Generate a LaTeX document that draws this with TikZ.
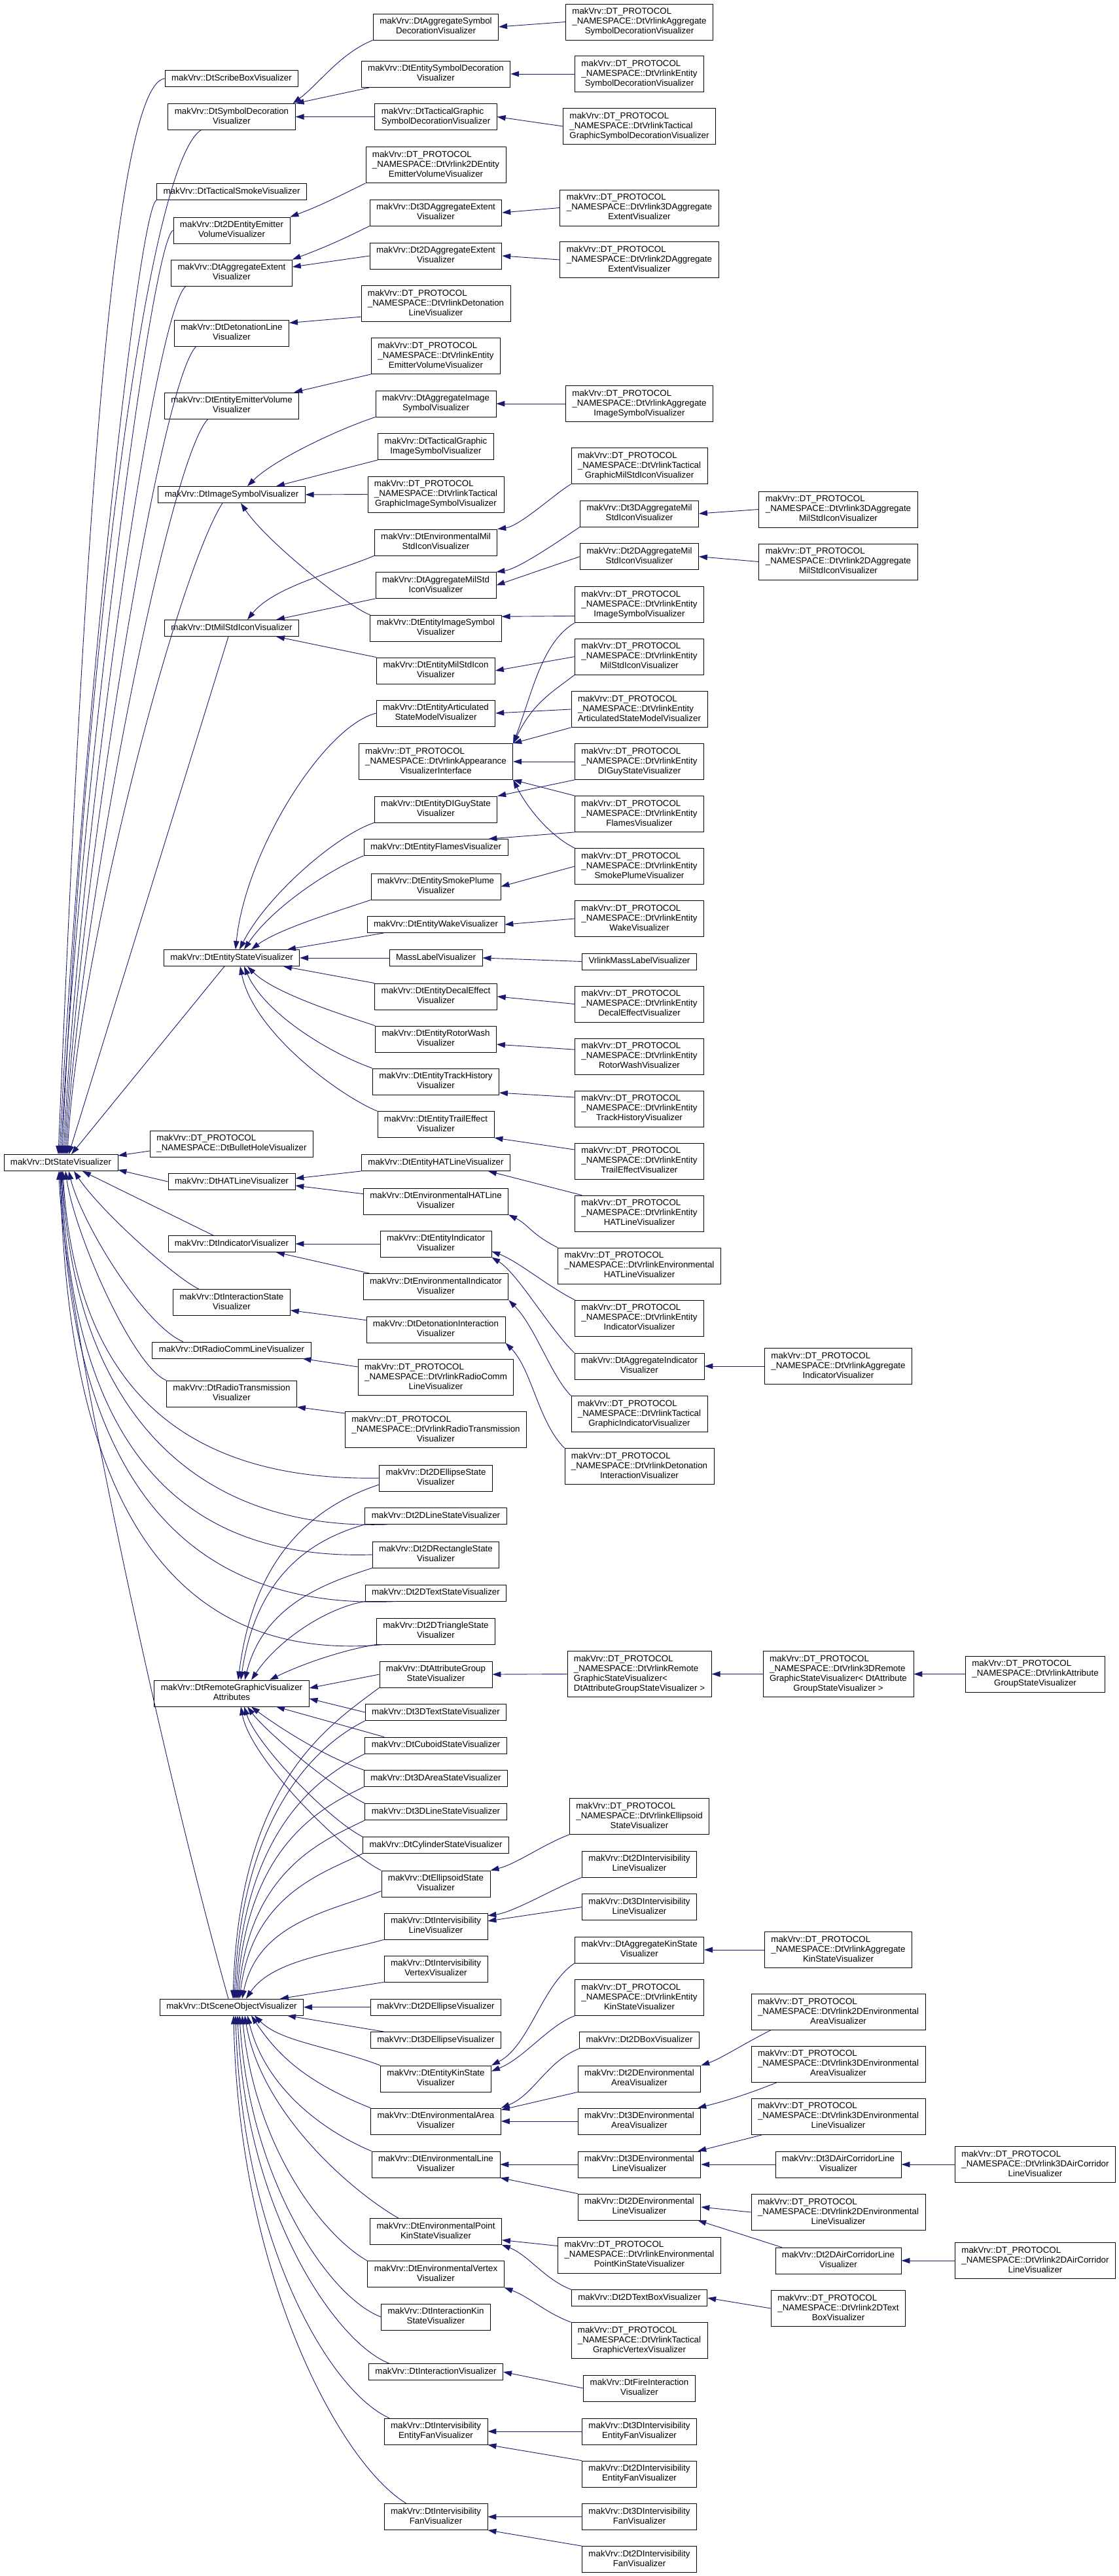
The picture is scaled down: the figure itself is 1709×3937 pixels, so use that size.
\documentclass[tikz,border=0pt]{standalone}
\usepackage{fontspec}
\setmainfont{Liberation Sans}
\usetikzlibrary{arrows.meta}
\definecolor{edgeblue}{HTML}{191970}
\newcommand{\kone}[1]{\begin{tabular}{@{}c@{}}#1\end{tabular}}
\newcommand{\klass}[2]{\begin{tabular}{@{}l@{}}#1\\\multicolumn{1}{@{}c@{}}{#2}\end{tabular}}
\newcommand{\dtpns}{makVrv::DT\_PROTOCOL\\\_NAMESPACE::}

\begin{document}
\begin{tikzpicture}[x=1pt,y=-1pt,
  cls/.style={draw=black,line width=0.8pt,fill=white,inner xsep=10pt,inner ysep=5pt,
    font=\fontsize{13.33}{15}\selectfont},
  inh/.style={draw=edgeblue,line width=0.9pt,-{Triangle[length=13pt,width=8.5pt]}}]
  \path[fill=white,use as bounding box] (0,0) rectangle (1709,3937);

  \node[cls] (state) at (93,1777) {\kone{makVrv::DtStateVisualizer}};

  \node[cls] (scribe) at (354,120) {\kone{makVrv::DtScribeBoxVisualizer}};
  \node[cls] (symdeco) at (354,178.5) {\klass{makVrv::DtSymbolDecoration}{Visualizer}};
  \node[cls] (tsmoke) at (354,293) {\kone{makVrv::DtTacticalSmokeVisualizer}};
  \node[cls] (emit2d) at (354,352) {\klass{makVrv::Dt2DEntityEmitter}{VolumeVisualizer}};
  \node[cls] (aggext) at (354,417) {\klass{makVrv::DtAggregateExtent}{Visualizer}};
  \node[cls] (detline) at (354,509) {\klass{makVrv::DtDetonationLine}{Visualizer}};
  \node[cls] (entemit) at (354,620) {\klass{makVrv::DtEntityEmitterVolume}{Visualizer}};
  \node[cls] (imgsym) at (354,756) {\kone{makVrv::DtImageSymbolVisualizer}};
  \node[cls] (milstd) at (354,960) {\kone{makVrv::DtMilStdIconVisualizer}};
  \node[cls] (entstate) at (354,1464) {\kone{makVrv::DtEntityStateVisualizer}};
  \node[cls] (bullet) at (354,1748) {\klass{makVrv::DT\_PROTOCOL}{\_NAMESPACE::DtBulletHoleVisualizer}};
  \node[cls] (hatline) at (354,1806) {\kone{makVrv::DtHATLineVisualizer}};
  \node[cls] (indic) at (354,1901) {\kone{makVrv::DtIndicatorVisualizer}};
  \node[cls] (interst) at (354,1990.6) {\klass{makVrv::DtInteractionState}{Visualizer}};
  \node[cls] (radiocomm) at (354,2063.5) {\kone{makVrv::DtRadioCommLineVisualizer}};
  \node[cls] (radiotx) at (354,2130) {\klass{makVrv::DtRadioTransmission}{Visualizer}};
  \node[cls] (remgfx) at (354,2588) {\klass{makVrv::DtRemoteGraphicVisualizer}{Attributes}};
  \node[cls] (sceneobj) at (354,3067.6) {\kone{makVrv::DtSceneObjectVisualizer}};

  \node[cls] (aggsymdeco) at (666,41) {\klass{makVrv::DtAggregateSymbol}{DecorationVisualizer}};
  \node[cls] (entsymdeco) at (666,113) {\klass{makVrv::DtEntitySymbolDecoration}{Visualizer}};
  \node[cls] (tgsymdeco) at (666,178.5) {\klass{makVrv::DtTacticalGraphic}{SymbolDecorationVisualizer}};
  \node[cls] (vlemit2d) at (666,252) {\klass{\dtpns DtVrlink2DEntity}{EmitterVolumeVisualizer}};
  \node[cls] (aggext3d) at (666,325) {\klass{makVrv::Dt3DAggregateExtent}{Visualizer}};
  \node[cls] (aggext2d) at (666,391) {\klass{makVrv::Dt2DAggregateExtent}{Visualizer}};
  \node[cls] (vldetline) at (666,464) {\klass{\dtpns DtVrlinkDetonation}{LineVisualizer}};
  \node[cls] (vlentemit) at (666,544) {\klass{\dtpns DtVrlinkEntity}{EmitterVolumeVisualizer}};
  \node[cls] (aggimg) at (666,617) {\klass{makVrv::DtAggregateImage}{SymbolVisualizer}};
  \node[cls] (tgimg) at (666,682.6) {\klass{makVrv::DtTacticalGraphic}{ImageSymbolVisualizer}};
  \node[cls] (vltgimg) at (666,755.5) {\klass{\dtpns DtVrlinkTactical}{GraphicImageSymbolVisualizer}};
  \node[cls] (envmil) at (666,829) {\klass{makVrv::DtEnvironmentalMil}{StdIconVisualizer}};
  \node[cls] (aggmil) at (666,894.5) {\klass{makVrv::DtAggregateMilStd}{IconVisualizer}};
  \node[cls] (entimg) at (666,960) {\klass{makVrv::DtEntityImageSymbol}{Visualizer}};
  \node[cls] (entmil) at (666,1025) {\klass{makVrv::DtEntityMilStdIcon}{Visualizer}};
  \node[cls] (entartic) at (666,1090) {\klass{makVrv::DtEntityArticulated}{StateModelVisualizer}};
  \node[cls] (vlappear) at (666,1164) {\klass{\dtpns DtVrlinkAppearance}{VisualizerInterface}};
  \node[cls] (entdiguy) at (666,1237) {\klass{makVrv::DtEntityDIGuyState}{Visualizer}};
  \node[cls] (entflames) at (666,1295) {\kone{makVrv::DtEntityFlamesVisualizer}};
  \node[cls] (entsmoke) at (666,1355) {\klass{makVrv::DtEntitySmokePlume}{Visualizer}};
  \node[cls] (entwake) at (666,1413) {\kone{makVrv::DtEntityWakeVisualizer}};
  \node[cls] (masslabel) at (666,1464) {\kone{MassLabelVisualizer}};
  \node[cls] (entdecal) at (666,1523) {\klass{makVrv::DtEntityDecalEffect}{Visualizer}};
  \node[cls] (entrotor) at (666,1588) {\klass{makVrv::DtEntityRotorWash}{Visualizer}};
  \node[cls] (enttrack) at (666,1653) {\klass{makVrv::DtEntityTrackHistory}{Visualizer}};
  \node[cls] (enttrail) at (666,1718.6) {\klass{makVrv::DtEntityTrailEffect}{Visualizer}};
  \node[cls] (enthat) at (666,1777) {\kone{makVrv::DtEntityHATLineVisualizer}};
  \node[cls] (envhat) at (666,1836) {\klass{makVrv::DtEnvironmentalHATLine}{Visualizer}};
  \node[cls] (entind) at (666,1901) {\klass{makVrv::DtEntityIndicator}{Visualizer}};
  \node[cls] (envind) at (666,1966.5) {\klass{makVrv::DtEnvironmentalIndicator}{Visualizer}};
  \node[cls] (detinter) at (666,2032) {\klass{makVrv::DtDetonationInteraction}{Visualizer}};
  \node[cls] (vlradiocomm) at (666,2105) {\klass{\dtpns DtVrlinkRadioComm}{LineVisualizer}};
  \node[cls] (vlradiotx) at (666,2185) {\klass{\dtpns DtVrlinkRadioTransmission}{Visualizer}};
  \node[cls] (ellst2d) at (666,2259) {\klass{makVrv::Dt2DEllipseState}{Visualizer}};
  \node[cls] (linest2d) at (666,2317) {\kone{makVrv::Dt2DLineStateVisualizer}};
  \node[cls] (rectst2d) at (666,2376) {\klass{makVrv::Dt2DRectangleState}{Visualizer}};
  \node[cls] (textst2d) at (666,2434.6) {\kone{makVrv::Dt2DTextStateVisualizer}};
  \node[cls] (trist2d) at (666,2493) {\klass{makVrv::Dt2DTriangleState}{Visualizer}};
  \node[cls] (attrgrp) at (666,2559) {\klass{makVrv::DtAttributeGroup}{StateVisualizer}};
  \node[cls] (textst3d) at (666,2617) {\kone{makVrv::Dt3DTextStateVisualizer}};
  \node[cls] (cuboid) at (666,2667.5) {\kone{makVrv::DtCuboidStateVisualizer}};
  \node[cls] (areast3d) at (666,2718) {\kone{makVrv::Dt3DAreaStateVisualizer}};
  \node[cls] (linest3d) at (666,2769) {\kone{makVrv::Dt3DLineStateVisualizer}};
  \node[cls] (cylinder) at (666,2820) {\kone{makVrv::DtCylinderStateVisualizer}};
  \node[cls] (ellipsoid) at (666,2879) {\klass{makVrv::DtEllipsoidState}{Visualizer}};
  \node[cls] (ivline) at (666,2944) {\klass{makVrv::DtIntervisibility}{LineVisualizer}};
  \node[cls] (ivvertex) at (666,3009) {\klass{makVrv::DtIntervisibility}{VertexVisualizer}};
  \node[cls] (ellvis2d) at (666,3067.6) {\kone{makVrv::Dt2DEllipseVisualizer}};
  \node[cls] (ellvis3d) at (666,3118) {\kone{makVrv::Dt3DEllipseVisualizer}};
  \node[cls] (entkin) at (666,3177) {\klass{makVrv::DtEntityKinState}{Visualizer}};
  \node[cls] (envarea) at (666,3242) {\klass{makVrv::DtEnvironmentalArea}{Visualizer}};
  \node[cls] (envline) at (666,3308) {\klass{makVrv::DtEnvironmentalLine}{Visualizer}};
  \node[cls] (envptkin) at (666,3410.5) {\klass{makVrv::DtEnvironmentalPoint}{KinStateVisualizer}};
  \node[cls] (envvertex) at (666,3475.7) {\klass{makVrv::DtEnvironmentalVertex}{Visualizer}};
  \node[cls] (interkin) at (666,3541) {\klass{makVrv::DtInteractionKin}{StateVisualizer}};
  \node[cls] (intervis) at (666,3625) {\kone{makVrv::DtInteractionVisualizer}};
  \node[cls] (iventfan) at (666,3716) {\klass{makVrv::DtIntervisibility}{EntityFanVisualizer}};
  \node[cls] (ivfan) at (666,3846.5) {\klass{makVrv::DtIntervisibility}{FanVisualizer}};

  \node[cls] (vlaggsymdeco) at (977,33.5) {\klass{\dtpns DtVrlinkAggregate}{SymbolDecorationVisualizer}};
  \node[cls] (vlentsymdeco) at (977,113) {\klass{\dtpns DtVrlinkEntity}{SymbolDecorationVisualizer}};
  \node[cls] (vltgsymdeco) at (977,193) {\klass{\dtpns DtVrlinkTactical}{GraphicSymbolDecorationVisualizer}};
  \node[cls] (vlaggext3d) at (977,317.5) {\klass{\dtpns DtVrlink3DAggregate}{ExtentVisualizer}};
  \node[cls] (vlaggext2d) at (977,397) {\klass{\dtpns DtVrlink2DAggregate}{ExtentVisualizer}};
  \node[cls] (vlaggimg) at (977,617) {\klass{\dtpns DtVrlinkAggregate}{ImageSymbolVisualizer}};
  \node[cls] (vltgmil) at (977,712) {\klass{\dtpns DtVrlinkTactical}{GraphicMilStdIconVisualizer}};
  \node[cls] (aggmil3d) at (977,785) {\klass{makVrv::Dt3DAggregateMil}{StdIconVisualizer}};
  \node[cls] (aggmil2d) at (977,850.6) {\klass{makVrv::Dt2DAggregateMil}{StdIconVisualizer}};
  \node[cls] (vlentimg) at (977,924) {\klass{\dtpns DtVrlinkEntity}{ImageSymbolVisualizer}};
  \node[cls] (vlentmil) at (977,1003.6) {\klass{\dtpns DtVrlinkEntity}{MilStdIconVisualizer}};
  \node[cls] (vlentartic) at (977,1084) {\klass{\dtpns DtVrlinkEntity}{ArticulatedStateModelVisualizer}};
  \node[cls] (vlentdiguy) at (977,1164) {\klass{\dtpns DtVrlinkEntity}{DIGuyStateVisualizer}};
  \node[cls] (vlentflames) at (977,1244) {\klass{\dtpns DtVrlinkEntity}{FlamesVisualizer}};
  \node[cls] (vlentsmoke) at (977,1324) {\klass{\dtpns DtVrlinkEntity}{SmokePlumeVisualizer}};
  \node[cls] (vlentwake) at (977,1404) {\klass{\dtpns DtVrlinkEntity}{WakeVisualizer}};
  \node[cls] (vlmasslabel) at (977,1469.5) {\kone{VrlinkMassLabelVisualizer}};
  \node[cls] (vlentdecal) at (977,1534.5) {\klass{\dtpns DtVrlinkEntity}{DecalEffectVisualizer}};
  \node[cls] (vlentrotor) at (977,1614.5) {\klass{\dtpns DtVrlinkEntity}{RotorWashVisualizer}};
  \node[cls] (vlenttrack) at (977,1694.5) {\klass{\dtpns DtVrlinkEntity}{TrackHistoryVisualizer}};
  \node[cls] (vlenttrail) at (977,1774.5) {\klass{\dtpns DtVrlinkEntity}{TrailEffectVisualizer}};
  \node[cls] (vlenthat) at (977,1854.5) {\klass{\dtpns DtVrlinkEntity}{HATLineVisualizer}};
  \node[cls] (vlenvhat) at (977,1934.5) {\klass{\dtpns DtVrlinkEnvironmental}{HATLineVisualizer}};
  \node[cls] (vlentind) at (977,2014.5) {\klass{\dtpns DtVrlinkEntity}{IndicatorVisualizer}};
  \node[cls] (aggind) at (977,2088) {\klass{makVrv::DtAggregateIndicator}{Visualizer}};
  \node[cls] (vltgind) at (977,2161) {\klass{\dtpns DtVrlinkTactical}{GraphicIndicatorVisualizer}};
  \node[cls] (vldetinter) at (977,2241) {\klass{\dtpns DtVrlinkDetonation}{InteractionVisualizer}};
  \node[cls] (vlremgfx) at (977,2558.5) {\klass{\dtpns DtVrlinkRemote\\GraphicStateVisualizer<}{DtAttributeGroupStateVisualizer >}};
  \node[cls] (vlellipsoid) at (977,2776) {\klass{\dtpns DtVrlinkEllipsoid}{StateVisualizer}};
  \node[cls] (ivline2d) at (977,2849) {\klass{makVrv::Dt2DIntervisibility}{LineVisualizer}};
  \node[cls] (ivline3d) at (977,2914.6) {\klass{makVrv::Dt3DIntervisibility}{LineVisualizer}};
  \node[cls] (aggkin) at (977,2980) {\klass{makVrv::DtAggregateKinState}{Visualizer}};
  \node[cls] (vlentkin) at (977,3053) {\klass{\dtpns DtVrlinkEntity}{KinStateVisualizer}};
  \node[cls] (box2d) at (977,3118) {\kone{makVrv::Dt2DBoxVisualizer}};
  \node[cls] (envarea2d) at (977,3177) {\klass{makVrv::Dt2DEnvironmental}{AreaVisualizer}};
  \node[cls] (envarea3d) at (977,3242) {\klass{makVrv::Dt3DEnvironmental}{AreaVisualizer}};
  \node[cls] (envline3d) at (977,3308) {\klass{makVrv::Dt3DEnvironmental}{LineVisualizer}};
  \node[cls] (envline2d) at (977,3373) {\klass{makVrv::Dt2DEnvironmental}{LineVisualizer}};
  \node[cls] (vlenvptkin) at (977,3446.5) {\klass{\dtpns DtVrlinkEnvironmental}{PointKinStateVisualizer}};
  \node[cls] (textbox2d) at (977,3512) {\kone{makVrv::Dt2DTextBoxVisualizer}};
  \node[cls] (vltgvertex) at (977,3577) {\klass{\dtpns DtVrlinkTactical}{GraphicVertexVisualizer}};
  \node[cls] (fireinter) at (977,3650) {\klass{makVrv::DtFireInteraction}{Visualizer}};
  \node[cls] (iventfan3d) at (977,3716) {\klass{makVrv::Dt3DIntervisibility}{EntityFanVisualizer}};
  \node[cls] (iventfan2d) at (977,3781) {\klass{makVrv::Dt2DIntervisibility}{EntityFanVisualizer}};
  \node[cls] (ivfan3d) at (977,3846.5) {\klass{makVrv::Dt3DIntervisibility}{FanVisualizer}};
  \node[cls] (ivfan2d) at (977,3911.5) {\klass{makVrv::Dt2DIntervisibility}{FanVisualizer}};

  \node[cls] (vlaggmil3d) at (1281,778.5) {\klass{\dtpns DtVrlink3DAggregate}{MilStdIconVisualizer}};
  \node[cls] (vlaggmil2d) at (1281,858.5) {\klass{\dtpns DtVrlink2DAggregate}{MilStdIconVisualizer}};
  \node[cls] (vlaggind) at (1281,2088) {\klass{\dtpns DtVrlinkAggregate}{IndicatorVisualizer}};
  \node[cls] (vlremgfx3d) at (1281,2558.5) {\klass{\dtpns DtVrlink3DRemote\\GraphicStateVisualizer< DtAttribute}{GroupStateVisualizer >}};
  \node[cls] (vlaggkin) at (1281,2980) {\klass{\dtpns DtVrlinkAggregate}{KinStateVisualizer}};
  \node[cls] (vlenvarea2d) at (1281,3075) {\klass{\dtpns DtVrlink2DEnvironmental}{AreaVisualizer}};
  \node[cls] (vlenvarea3d) at (1281,3154.6) {\klass{\dtpns DtVrlink3DEnvironmental}{AreaVisualizer}};
  \node[cls] (vlenvline3d) at (1281,3234.6) {\klass{\dtpns DtVrlink3DEnvironmental}{LineVisualizer}};
  \node[cls] (aircorr3d) at (1281,3308) {\klass{makVrv::Dt3DAirCorridorLine}{Visualizer}};
  \node[cls] (vlenvline2d) at (1281,3381) {\klass{\dtpns DtVrlink2DEnvironmental}{LineVisualizer}};
  \node[cls] (aircorr2d) at (1281,3455) {\klass{makVrv::Dt2DAirCorridorLine}{Visualizer}};
  \node[cls] (vltextbox2d) at (1281,3528) {\klass{\dtpns DtVrlink2DText}{BoxVisualizer}};

  \node[cls] (vlattrgrp) at (1582,2558.5) {\klass{\dtpns DtVrlinkAttribute}{GroupStateVisualizer}};
  \node[cls] (vlaircorr3d) at (1582,3308) {\klass{\dtpns DtVrlink3DAirCorridor}{LineVisualizer}};
  \node[cls] (vlaircorr2d) at (1582,3455) {\klass{\dtpns DtVrlink2DAirCorridor}{LineVisualizer}};

  \draw[inh] (scribe.west) .. controls +(-90,10) and +(30,-700) .. ([xshift=-4pt]state.north);
  \draw[inh] ([xshift=-47pt]symdeco.south) .. controls +(-90,60) and +(28,-650) .. ([xshift=2pt]state.north);
  \draw[inh] (tsmoke.south west) .. controls +(-30,15) and +(26,-550) .. ([xshift=-2pt]state.north);
  \draw[inh] (emit2d.west) .. controls +(-35,15) and +(25,-500) .. (state.north);
  \draw[inh] ([xshift=-70pt]aggext.south) .. controls +(-50,40) and +(22,-450) .. ([xshift=4pt]state.north);
  \draw[inh] ([xshift=-54pt]detline.south) .. controls +(-55,50) and +(20,-400) .. ([xshift=6pt]state.north);
  \draw[inh] ([xshift=-36pt]entemit.south) .. controls +(-60,60) and +(18,-350) .. ([xshift=8pt]state.north);
  \draw[inh] ([xshift=-14pt]imgsym.south) .. controls +(-70,110) and +(15,-300) .. ([xshift=10pt]state.north);
  \draw[inh] ([xshift=-5pt]milstd.south) -- ([xshift=12pt]state.north);
  \draw[inh] ([xshift=-11pt]entstate.south) -- ([xshift=16pt]state.north);
  \draw[inh] (bullet.185) -- ([yshift=-2pt]state.north east);
  \draw[inh] (hatline.west) -- ([yshift=2pt]state.south east);
  \draw[inh] ([xshift=-28pt]indic.north) -- ([xshift=33pt]state.south);
  \draw[inh] ([xshift=-50pt]interst.north) .. controls +(-40,-20) and +(40,60) .. ([xshift=20pt]state.south);
  \draw[inh] ([xshift=-74pt]radiocomm.north) .. controls +(-60,-25) and +(20,80) .. ([xshift=12pt]state.south);
  \draw[inh] (radiotx.north west) .. controls +(-50,-20) and +(15,100) .. ([xshift=7pt]state.south);
  \draw[inh] (ellst2d.west) .. controls +(-300,5) and +(20,330) .. ([xshift=3pt]state.south);
  \draw[inh] ([xshift=-74pt]linest2d.south) .. controls +(-300,10) and +(18,360) .. ([xshift=2pt]state.south);
  \draw[inh] (rectst2d.west) .. controls +(-310,10) and +(16,400) .. ([xshift=1pt]state.south);
  \draw[inh] ([xshift=-60pt]textst2d.south) .. controls +(-340,15) and +(14,450) .. (state.south);
  \draw[inh] ([xshift=-79pt]trist2d.south) .. controls +(-330,30) and +(12,500) .. ([xshift=-1pt]state.south);
  \draw[inh] ([xshift=-5pt]sceneobj.north) .. controls +(-100,-355) and +(7,210) .. ([xshift=-3pt]state.south);

  \draw[inh] (aggsymdeco.south west) .. controls +(-50,20) and +(40,-30) .. ([xshift=-4pt]symdeco.north east);
  \draw[inh] ([xshift=15pt]entsymdeco.south west) -- (symdeco.north east);
  \draw[inh] (tgsymdeco.west) -- (symdeco.east);
  \draw[inh] (vlemit2d.south west) .. controls +(-50,25) and +(40,-15) .. (emit2d.north east);
  \draw[inh] (aggext3d.south west) .. controls +(-50,25) and +(40,-15) .. (aggext.north east);
  \draw[inh] (aggext2d.west) -- ([yshift=9pt]aggext.east);
  \draw[inh] (vldetline.190) -- (detline.10);
  \draw[inh] (vlentemit.south west) -- ([xshift=-8pt]entemit.north east);
  \draw[inh] (aggimg.south west) .. controls +(-60,20) and +(40,-40) .. ([xshift=24pt]imgsym.north);
  \draw[inh] (tgimg.south west) -- ([xshift=68pt]imgsym.north);
  \draw[inh] (vltgimg.west) -- (imgsym.east);
  \draw[inh] (entimg.north west) .. controls +(-30,-10) and +(40,60) .. ([xshift=14pt]imgsym.south);
  \draw[inh] (envmil.south west) .. controls +(-60,25) and +(40,-50) .. ([xshift=24pt]milstd.north);
  \draw[inh] (aggmil.south west) -- ([xshift=68pt]milstd.north);
  \draw[inh] (entmil.north west) -- ([xshift=68pt]milstd.south);

  \draw[inh] (entartic.west) .. controls +(-80,20) and +(15,-150) .. ([xshift=6pt]entstate.north);
  \draw[inh] (entdiguy.south west) .. controls +(-60,20) and +(40,-80) .. ([xshift=12pt]entstate.north);
  \draw[inh] (entflames.south west) .. controls +(-60,25) and +(40,-60) .. ([xshift=19pt]entstate.north);
  \draw[inh] (entsmoke.south west) .. controls +(-60,20) and +(40,-30) .. ([xshift=30pt]entstate.north);
  \draw[inh] ([xshift=26pt]entwake.south west) -- ([xshift=85pt]entstate.north);
  \draw[inh] (masslabel.west) -- (entstate.east);
  \draw[inh] (entdecal.north west) -- ([xshift=79pt]entstate.south);
  \draw[inh] (entrotor.north west) .. controls +(-60,-20) and +(40,40) .. ([xshift=24pt]entstate.south);
  \draw[inh] (enttrack.north west) .. controls +(-70,-25) and +(30,70) .. ([xshift=19pt]entstate.south);
  \draw[inh] (enttrail.north west) .. controls +(-60,-25) and +(20,100) .. ([xshift=13pt]entstate.south);

  \draw[inh] (enthat.south west) -- ([yshift=5pt]hatline.east);
  \draw[inh] ([yshift=-9pt]envhat.north west) -- ([yshift=-6pt]hatline.east);
  \draw[inh] (entind.west) -- (indic.east);
  \draw[inh] ([xshift=10pt]envind.north west) -- ([xshift=68pt]indic.south);
  \draw[inh] ([yshift=-6pt]detinter.north west) -- ([yshift=-12pt]interst.east);
  \draw[inh] ([yshift=16pt]vlradiocomm.west) -- ([xshift=-13pt]radiocomm.south east);
  \draw[inh] ([yshift=25pt]vlradiotx.west) -- (radiotx.south east);

  \draw[inh] ([yshift=-10pt]ellst2d.west) .. controls +(-90,30) and +(25,-200) .. ([xshift=10pt]remgfx.north);
  \draw[inh] (linest2d.south west) .. controls +(-70,20) and +(25,-170) .. ([xshift=14pt]remgfx.north);
  \draw[inh] (rectst2d.south west) .. controls +(-60,20) and +(30,-120) .. ([xshift=20pt]remgfx.north);
  \draw[inh] (textst2d.south west) .. controls +(-60,10) and +(40,-60) .. ([xshift=30pt]remgfx.north);
  \draw[inh] (trist2d.south west) .. controls +(-60,10) and +(40,-20) .. ([xshift=58pt]remgfx.north);
  \draw[inh] (attrgrp.west) -- ([yshift=8pt]remgfx.east);
  \draw[inh] (textst3d.west) -- ([yshift=-8pt]remgfx.east);
  \draw[inh] ([xshift=-79pt]cuboid.north) -- ([xshift=68pt]remgfx.south);
  \draw[inh] (areast3d.north west) .. controls +(-60,-20) and +(40,30) .. ([xshift=30pt]remgfx.south);
  \draw[inh] (linest3d.north west) .. controls +(-50,-25) and +(30,40) .. ([xshift=24pt]remgfx.south);
  \draw[inh] (cylinder.north west) .. controls +(-50,-25) and +(20,60) .. ([xshift=19pt]remgfx.south);
  \draw[inh] (ellipsoid.north west) .. controls +(-60,-30) and +(15,80) .. ([xshift=14pt]remgfx.south);

  \draw[inh] (attrgrp.south west) .. controls +(-80,60) and +(10,-330) .. ([xshift=2pt]sceneobj.north);
  \draw[inh] (textst3d.south west) .. controls +(-60,30) and +(12,-300) .. ([xshift=4pt]sceneobj.north);
  \draw[inh] (cuboid.south west) .. controls +(-60,30) and +(14,-270) .. ([xshift=6pt]sceneobj.north);
  \draw[inh] (areast3d.south west) .. controls +(-60,30) and +(16,-240) .. ([xshift=8pt]sceneobj.north);
  \draw[inh] (linest3d.south west) .. controls +(-60,30) and +(18,-200) .. ([xshift=10pt]sceneobj.north);
  \draw[inh] (cylinder.south west) .. controls +(-60,30) and +(20,-160) .. ([xshift=12pt]sceneobj.north);
  \draw[inh] ([yshift=-11pt]ellipsoid.west) .. controls +(-70,30) and +(25,-120) .. ([xshift=16pt]sceneobj.north);
  \draw[inh] (ivline.south west) .. controls +(-70,20) and +(40,-60) .. ([xshift=22pt]sceneobj.north);
  \draw[inh] (ivvertex.south west) -- ([xshift=74pt]sceneobj.north);
  \draw[inh] (ellvis2d.west) -- (sceneobj.east);
  \draw[inh] ([xshift=-79pt]ellvis3d.north) -- ([xshift=85pt]sceneobj.south);
  \draw[inh] (entkin.north west) .. controls +(-80,-30) and +(40,40) .. ([xshift=35pt]sceneobj.south);
  \draw[inh] (envarea.north west) .. controls +(-100,-40) and +(40,60) .. ([xshift=30pt]sceneobj.south);
  \draw[inh] (envline.north west) .. controls +(-60,-25) and +(30,120) .. ([xshift=24pt]sceneobj.south);
  \draw[inh] ([xshift=-57pt]envptkin.north) .. controls +(-70,-40) and +(25,150) .. ([xshift=20pt]sceneobj.south);
  \draw[inh] (envvertex.north west) .. controls +(-70,-40) and +(20,200) .. ([xshift=16pt]sceneobj.south);
  \draw[inh] (interkin.west) .. controls +(-80,-30) and +(15,250) .. ([xshift=12pt]sceneobj.south);
  \draw[inh] ([xshift=-71pt]intervis.north) .. controls +(-80,-30) and +(12,300) .. ([xshift=9pt]sceneobj.south);
  \draw[inh] ([xshift=-71pt]iventfan.north) .. controls +(-90,-40) and +(10,350) .. ([xshift=6pt]sceneobj.south);
  \draw[inh] ([xshift=-45pt]ivfan.north) .. controls +(-100,-60) and +(8,400) .. ([xshift=3pt]sceneobj.south);

  \draw[inh] (vlaggsymdeco.west) -- (aggsymdeco.east);
  \draw[inh] (vlentsymdeco.west) -- (entsymdeco.east);
  \draw[inh] (vltgsymdeco.west) -- (tgsymdeco.east);
  \draw[inh] (vlaggext3d.west) -- (aggext3d.east);
  \draw[inh] (vlaggext2d.west) -- (aggext2d.east);
  \draw[inh] (vlaggimg.west) -- (aggimg.east);
  \draw[inh] (vltgmil.south west) .. controls +(-25,15) and +(35,-5) .. (envmil.north east);
  \draw[inh] (aggmil3d.south west) .. controls +(-30,20) and +(35,-5) .. (aggmil.north east);
  \draw[inh] (aggmil2d.west) -- (aggmil.east);
  \draw[inh] (vlaggmil3d.west) -- (aggmil3d.east);
  \draw[inh] (vlaggmil2d.west) -- (aggmil2d.east);
  \draw[inh] (vlentimg.190) -- (entimg.10);
  \draw[inh] (vlentimg.south west) .. controls +(-50,30) and +(30,-80) .. (vlappear.north east);
  \draw[inh] (vlentmil.west) -- (entmil.east);
  \draw[inh] (vlentmil.south west) .. controls +(-40,30) and +(30,-60) .. (vlappear.north east);
  \draw[inh] (vlentartic.west) -- (entartic.east);
  \draw[inh] (vlentartic.south west) -- (vlappear.north east);
  \draw[inh] (vlentdiguy.west) -- (vlappear.east);
  \draw[inh] (vlentdiguy.south west) -- (entdiguy.north east);
  \draw[inh] (vlentflames.north west) -- (vlappear.south east);
  \draw[inh] (vlentflames.south west) -- ([xshift=-30pt]entflames.north east);
  \draw[inh] (vlentsmoke.north west) .. controls +(-40,-20) and +(20,40) .. (vlappear.south east);
  \draw[inh] (vlentsmoke.west) -- (entsmoke.east);
  \draw[inh] (vlentwake.west) -- (entwake.east);
  \draw[inh] (vlmasslabel.west) -- (masslabel.east);
  \draw[inh] (vlentdecal.west) -- (entdecal.east);
  \draw[inh] (vlentrotor.174) -- (entrotor.-5);
  \draw[inh] (vlenttrack.170) -- (enttrack.-10);
  \draw[inh] (vlenttrail.170) -- (enttrail.south east);
  \draw[inh] ([xshift=11pt]vlenthat.north west) -- ([xshift=-34pt]enthat.south east);
  \draw[inh] (vlenvhat.north west) .. controls +(-40,-20) and +(30,15) .. (envhat.south east);
  \draw[inh] (vlentind.north west) .. controls +(-40,-20) and +(40,15) .. ([yshift=9pt]entind.south east);
  \draw[inh] (aggind.north west) .. controls +(-40,-40) and +(40,25) .. (entind.south east);
  \draw[inh] (vltgind.north west) .. controls +(-30,-30) and +(40,40) .. (envind.south east);
  \draw[inh] (vldetinter.north west) .. controls +(-40,-40) and +(40,40) .. (detinter.south east);
  \draw[inh] (vlaggind.west) -- (aggind.east);
  \draw[inh] (vlremgfx.west) -- (attrgrp.east);
  \draw[inh] (vlremgfx3d.west) -- (vlremgfx.east);
  \draw[inh] (vlattrgrp.west) -- (vlremgfx3d.east);
  \draw[inh] (vlellipsoid.south west) .. controls +(-40,15) and +(40,-10) .. (ellipsoid.north east);
  \draw[inh] (ivline2d.south west) .. controls +(-40,15) and +(40,-5) .. ([yshift=-4pt]ivline.north east);
  \draw[inh] (ivline3d.west) -- ([yshift=8pt]ivline.east);
  \draw[inh] (aggkin.south west) .. controls +(-50,34) and +(58,-30) .. (entkin.north east);
  \draw[inh] (vlentkin.south west) .. controls +(-40,15) and +(50,-20) .. ([yshift=-9pt]entkin.north east);
  \draw[inh] (vlaggkin.west) -- (aggkin.east);
  \draw[inh] (box2d.south west) .. controls +(-50,20) and +(50,-20) .. (envarea.north east);
  \draw[inh] (envarea2d.south west) -- ([yshift=-3pt]envarea.north east);
  \draw[inh] (envarea3d.west) -- (envarea.east);
  \draw[inh] ([xshift=30pt]vlenvarea2d.south west) .. controls +(-40,20) and +(30,-10) .. (envarea2d.north east);
  \draw[inh] ([xshift=40pt]vlenvarea3d.south west) .. controls +(-50,20) and +(40,-10) .. ([xshift=-5pt]envarea3d.north east);
  \draw[inh] ([xshift=18pt]vlenvline3d.south west) -- ([xshift=-5pt]envline3d.north east);
  \draw[inh] (envline3d.west) -- (envline.east);
  \draw[inh] (envline2d.north west) -- (envline.south east);
  \draw[inh] (aircorr3d.west) -- (envline3d.east);
  \draw[inh] (vlaircorr3d.west) -- (aircorr3d.east);
  \draw[inh] (vlenvline2d.west) -- (envline2d.east);
  \draw[inh] ([xshift=10pt]aircorr2d.north west) -- ([xshift=-5pt]envline2d.south east);
  \draw[inh] (vlaircorr2d.west) -- (aircorr2d.east);
  \draw[inh] ([yshift=14pt]vlenvptkin.west) -- ([yshift=-13pt]envptkin.east);
  \draw[inh] (textbox2d.north west) .. controls +(-40,-15) and +(40,15) .. (envptkin.south east);
  \draw[inh] (vltextbox2d.west) -- (textbox2d.east);
  \draw[inh] (vltgvertex.north west) .. controls +(-40,-15) and +(40,15) .. (envvertex.south east);
  \draw[inh] (fireinter.west) -- (intervis.east);
  \draw[inh] (iventfan3d.west) -- (iventfan.east);
  \draw[inh] (iventfan2d.north west) -- (iventfan.south east);
  \draw[inh] (ivfan3d.west) -- (ivfan.east);
  \draw[inh] (ivfan2d.north west) -- (ivfan.south east);
\end{tikzpicture}
\end{document}
